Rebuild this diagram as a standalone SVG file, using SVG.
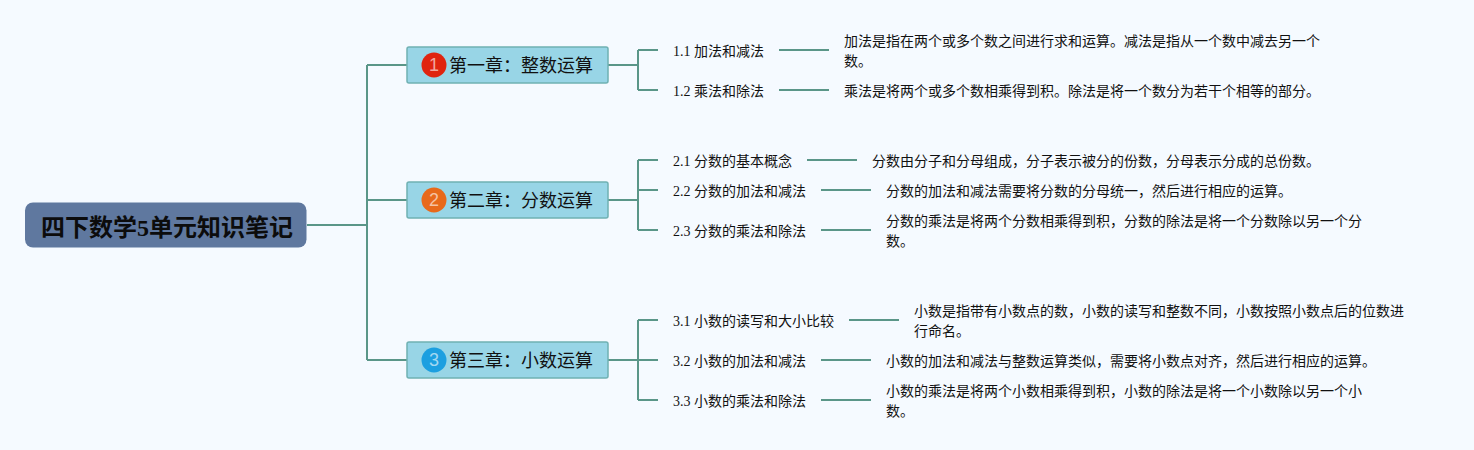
<svg xmlns="http://www.w3.org/2000/svg" width="1474" height="450" viewBox="0 0 1474 450">
<style>
text{font-family:"Liberation Serif","Noto Sans CJK SC",serif;fill:#111}
.root{font-size:24px;font-weight:bold;fill:#0c0c0c}
.ch{font-size:18px}
.t{font-size:14px}
.d{font-size:14px}
.box{fill:#98d5e6;stroke:#6fb1b3;stroke-width:1.5}
.num{font-family:"Liberation Sans",sans-serif;font-size:18px;fill:#fff;fill-opacity:.6;text-anchor:middle}
#connectors path{fill:none;stroke:#5a9688;stroke-width:2}
</style>
<rect width="1474" height="450" fill="#f5faff"/>
<g id="connectors">
<path d="M307 225H367M367 65V360M367 65H407M367 200H407M367 360H407"/>
<path d="M608 65H638M638 50V90M638 50H658M638 90H658M779 50H829M779 90H829"/>
<path d="M608 200H638M638 160V230M638 160H658M638 190H658M638 230H658M807 160H857M821 190H871M821 230H871"/>
<path d="M608 360H638M638 320V400M638 320H658M638 360H658M638 400H658M849 320H899M821 360H871M821 400H871"/>
</g>
<g id="root"><rect x="25" y="202.500" width="281.500" height="45" rx="8" fill="#5f789f"/><text class="root" x="41" y="236">四下数学5单元知识笔记</text></g>
<g id="ch1"><rect class="box" x="407" y="47" width="201" height="36" rx="2"/><circle cx="434" cy="65" r="12.500" fill="#e0240f"/><text class="num" x="434" y="71">1</text><text class="ch" x="449" y="72">第一章&#xFF1A;整数运算</text></g>
<g id="ch2"><rect class="box" x="407" y="182" width="201" height="36" rx="2"/><circle cx="434" cy="200" r="12.500" fill="#e8691a"/><text class="num" x="434" y="206">2</text><text class="ch" x="449" y="207">第二章&#xFF1A;分数运算</text></g>
<g id="ch3"><rect class="box" x="407" y="342" width="201" height="36" rx="2"/><circle cx="434" cy="360" r="12.500" fill="#1c9fe0"/><text class="num" x="434" y="366">3</text><text class="ch" x="449" y="367">第三章&#xFF1A;小数运算</text></g>
<g id="n11"><text class="t" x="673" y="56">1.1 加法和减法</text></g>
<g id="d11"><text class="d" x="844" y="46">加法是指在两个或多个数之间进行求和运算。减法是指从一个数中减去另一个</text><text class="d" x="844" y="66">数。</text></g>
<g id="n12"><text class="t" x="673" y="96">1.2 乘法和除法</text></g>
<g id="d12"><text class="d" x="844" y="96">乘法是将两个或多个数相乘得到积。除法是将一个数分为若干个相等的部分。</text></g>
<g id="n21"><text class="t" x="673" y="166">2.1 分数的基本概念</text></g>
<g id="d21"><text class="d" x="872" y="166">分数由分子和分母组成&#xFF0C;分子表示被分的份数&#xFF0C;分母表示分成的总份数。</text></g>
<g id="n22"><text class="t" x="673" y="196">2.2 分数的加法和减法</text></g>
<g id="d22"><text class="d" x="886" y="196">分数的加法和减法需要将分数的分母统一&#xFF0C;然后进行相应的运算。</text></g>
<g id="n23"><text class="t" x="673" y="236">2.3 分数的乘法和除法</text></g>
<g id="d23"><text class="d" x="886" y="226">分数的乘法是将两个分数相乘得到积&#xFF0C;分数的除法是将一个分数除以另一个分</text><text class="d" x="886" y="246">数。</text></g>
<g id="n31"><text class="t" x="673" y="326">3.1 小数的读写和大小比较</text></g>
<g id="d31"><text class="d" x="914" y="316">小数是指带有小数点的数&#xFF0C;小数的读写和整数不同&#xFF0C;小数按照小数点后的位数进</text><text class="d" x="914" y="336">行命名。</text></g>
<g id="n32"><text class="t" x="673" y="366">3.2 小数的加法和减法</text></g>
<g id="d32"><text class="d" x="886" y="366">小数的加法和减法与整数运算类似&#xFF0C;需要将小数点对齐&#xFF0C;然后进行相应的运算。</text></g>
<g id="n33"><text class="t" x="673" y="406">3.3 小数的乘法和除法</text></g>
<g id="d33"><text class="d" x="886" y="396">小数的乘法是将两个小数相乘得到积&#xFF0C;小数的除法是将一个小数除以另一个小</text><text class="d" x="886" y="416">数。</text></g>
</svg>
